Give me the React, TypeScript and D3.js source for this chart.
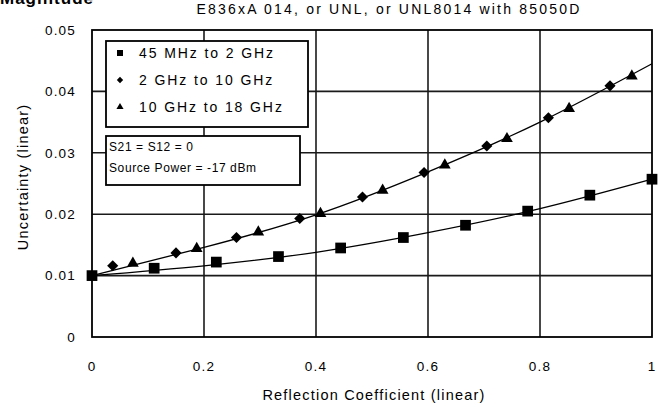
import React from "react";
import * as d3 from "d3";

const W = 658;
const H = 407;

const xTicks = [0, 0.2, 0.4, 0.6, 0.8, 1];
const xTickLabels = ["0", "0.2", "0.4", "0.6", "0.8", "1"];
const yTicks = [0, 0.01, 0.02, 0.03, 0.04, 0.05];
const yTickLabels = ["0", "0.01", "0.02", "0.03", "0.04", "0.05"];

// 45 MHz to 2 GHz (squares)
const squareX = [0, 0.111, 0.222, 0.333, 0.444, 0.556, 0.667, 0.778, 0.889, 1.0];
const squareY = [0.01, 0.0112, 0.0122, 0.0131, 0.0145, 0.0162, 0.0182, 0.0205, 0.0231, 0.0257];

// 2 GHz to 10 GHz (diamonds)
const diamondX = [0.037, 0.15, 0.258, 0.371, 0.483, 0.593, 0.705, 0.815, 0.925];
const diamondY = [0.0116, 0.0137, 0.0162, 0.0193, 0.0228, 0.0268, 0.0311, 0.0357, 0.0409];

// 10 GHz to 18 GHz (triangles)
const triangleX = [0.073, 0.187, 0.297, 0.408, 0.519, 0.63, 0.741, 0.852, 0.964];
const triangleY = [0.012, 0.0144, 0.0171, 0.0201, 0.0239, 0.028, 0.0323, 0.0372, 0.0425];

// fitted trend curves
const trendX = [0, 0.2, 0.4, 0.6, 0.8, 1.0];
const trendUpperY = [0.01, 0.0146, 0.0199, 0.0269, 0.035, 0.0445];
const trendLowerY = [0.01, 0.0116, 0.0138, 0.017, 0.0209, 0.0257];

const legendLabels = ["45 MHz to 2 GHz", "2 GHz to 10 GHz", "10 GHz to 18 GHz"];
const noteLines = ["S21 = S12 = 0", "Source Power = -17 dBm"];
const titleText = "E836xA 014, or UNL, or UNL8014 with 85050D";
const headText = "Magnitude";
const xTitle = "Reflection Coefficient (linear)";
const yTitle = "Uncertainty (linear)";

const FONT = "'Liberation Sans', Arial, sans-serif";

export default function App() {
  const x = d3.scaleLinear().domain([0, 1]).range([92, 652]);
  const y = d3.scaleLinear().domain([0, 0.05]).range([337, 30]);

  const line = d3
    .line<[number, number]>()
    .x((d) => x(d[0]))
    .y((d) => y(d[1]))
    .curve(d3.curveNatural);

  const upper: [number, number][] = trendX.map((v, i) => [v, trendUpperY[i]]);
  const lower: [number, number][] = trendX.map((v, i) => [v, trendLowerY[i]]);

  const sq = d3.symbol().type(d3.symbolSquare).size(115)()!;
  const dm = d3.symbol().type(d3.symbolSquare).size(62)()!;
  const tr = d3.symbol().type(d3.symbolTriangle).size(60)()!;
  const sqL = d3.symbol().type(d3.symbolSquare).size(36)()!;
  const dmL = d3.symbol().type(d3.symbolSquare).size(20)()!;
  const trL = d3.symbol().type(d3.symbolTriangle).size(22)()!;

  const gridStroke = "#1a1a1a";

  return (
    <svg
      width={W}
      height={H}
      style={{ position: "absolute", left: 0, top: 0, background: "#fff" }}
      fontFamily={FONT}
    >
      <rect x={0} y={0} width={W} height={H} fill="#fff" />
      {/* header */}
      <text x={0} y={4} fontSize={17} fontWeight="bold" fill="#000" letterSpacing={1}>
        {headText}
      </text>
      <text x={389} y={14} fontSize={14} textAnchor="middle" fill="#000" letterSpacing={2.2}>
        {titleText}
      </text>

      {/* grid */}
      {yTicks.slice(1, -1).map((t) => (
        <line key={"hy" + t} x1={x(0)} x2={x(1)} y1={y(t)} y2={y(t)} stroke={gridStroke} strokeWidth={1.6} />
      ))}
      {xTicks.slice(1, -1).map((t) => (
        <line key={"vx" + t} x1={x(t)} x2={x(t)} y1={y(0)} y2={y(0.05)} stroke={gridStroke} strokeWidth={1.6} />
      ))}
      <rect
        x={x(0)}
        y={y(0.05)}
        width={x(1) - x(0)}
        height={y(0) - y(0.05)}
        fill="none"
        stroke="#000"
        strokeWidth={1.8}
      />

      {/* tick labels */}
      {yTicks.map((t, i) => (
        <text key={"yl" + t} x={76} y={y(t)} dy="0.35em" fontSize={13.5} textAnchor="end" letterSpacing={1.2}>
          {yTickLabels[i]}
        </text>
      ))}
      {xTicks.map((t, i) => (
        <text key={"xl" + t} x={x(t)} y={366} dy="0.35em" fontSize={13.5} textAnchor="middle" letterSpacing={1.2}>
          {xTickLabels[i]}
        </text>
      ))}

      {/* axis titles */}
      <text x={374} y={395} dy="0.35em" fontSize={14.5} textAnchor="middle" letterSpacing={1.2}>
        {xTitle}
      </text>
      <text
        transform={`translate(23,177) rotate(-90)`}
        dy="0.35em"
        fontSize={14.5}
        textAnchor="middle"
        letterSpacing={1.2}
      >
        {yTitle}
      </text>

      {/* legend boxes */}
      <rect x={106} y={41} width={202} height={86} fill="#fff" stroke="#000" strokeWidth={1.8} />
      {legendLabels.map((l, i) => (
        <g key={l}>
          <path
            d={i === 0 ? sqL : i === 1 ? dmL : trL}
            transform={`translate(120,${53 + i * 27}) ${i === 1 ? "rotate(45)" : ""}`}
            fill="#000"
          />
          <text x={139} y={53 + i * 27} dy="0.35em" fontSize={14} letterSpacing={1.9}>
            {l}
          </text>
        </g>
      ))}
      <rect x={106} y={136} width={194} height={49} fill="#fff" stroke="#000" strokeWidth={1.8} />
      {noteLines.map((l, i) => (
        <text key={l} x={109} y={147 + i * 21} dy="0.35em" fontSize={12} letterSpacing={0.6}>
          {l}
        </text>
      ))}

      {/* curves */}
      <path d={line(upper)!} fill="none" stroke="#000" strokeWidth={1.3} />
      <path d={line(lower)!} fill="none" stroke="#000" strokeWidth={1.3} />

      {/* markers */}
      {squareX.map((v, i) => (
        <path key={"s" + i} d={sq} transform={`translate(${x(v)},${y(squareY[i])})`} fill="#000" />
      ))}
      {diamondX.map((v, i) => (
        <path key={"d" + i} d={dm} transform={`translate(${x(v)},${y(diamondY[i])}) rotate(45)`} fill="#000" />
      ))}
      {triangleX.map((v, i) => (
        <path key={"t" + i} d={tr} transform={`translate(${x(v)},${y(triangleY[i])})`} fill="#000" />
      ))}
    </svg>
  );
}
